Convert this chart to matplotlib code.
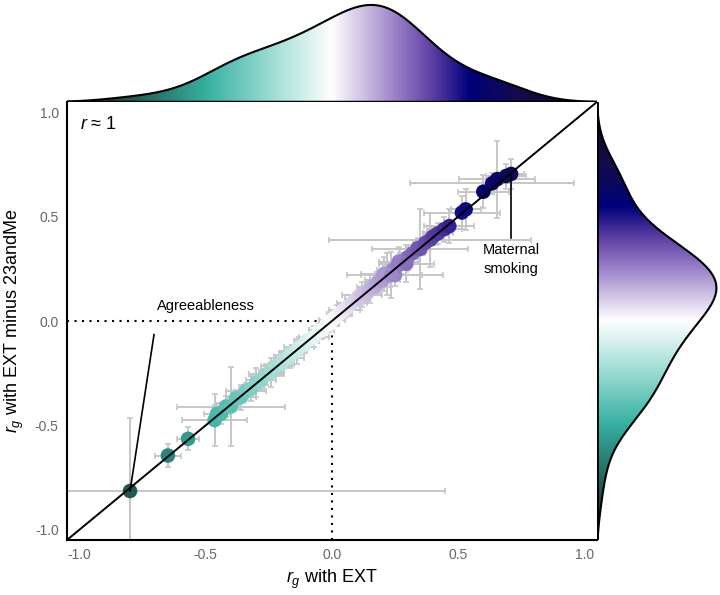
import numpy as np
import matplotlib
matplotlib.use("Agg")
import matplotlib.pyplot as plt
from matplotlib.colors import LinearSegmentedColormap, Normalize
from matplotlib.patches import Polygon

plt.rcParams['font.family'] = ['Liberation Sans', 'DejaVu Sans']
plt.rcParams['mathtext.fontset'] = 'custom'
plt.rcParams['mathtext.rm'] = 'Liberation Sans'
plt.rcParams['mathtext.it'] = 'Liberation Sans:italic'

# rg with EXT (x), rg with EXT minus 23andMe (y), and their standard errors
rg_ext = [-0.80, -0.65, -0.57, -0.465, -0.455,
          -0.44, -0.42, -0.40, -0.38, -0.36, -0.34, -0.32, -0.30, -0.28, -0.26, -0.24, -0.22,
          -0.20, -0.19, -0.17, -0.16, -0.14, -0.13, -0.11, -0.10, -0.08, -0.07, -0.05, -0.04,
          -0.02, -0.01,
          0.00, 0.01, 0.02, 0.03, 0.04, 0.05, 0.06, 0.07, 0.08, 0.09,
          0.10, 0.11, 0.12, 0.13, 0.14, 0.15, 0.16, 0.17, 0.18, 0.19,
          0.20, 0.21, 0.22, 0.23, 0.24, 0.25, 0.26, 0.27, 0.28, 0.30,
          0.32, 0.34, 0.35, 0.37, 0.39, 0.40, 0.42,
          0.205, 0.235, 0.265, 0.295,
          0.445, 0.465, 0.515, 0.53, 0.60, 0.635, 0.655, 0.69, 0.71]
rg_diff = [-0.815, -0.645, -0.565, -0.475, -0.445,
           -0.445, -0.41, -0.41, -0.37, -0.365, -0.335, -0.325, -0.295, -0.285, -0.255, -0.245, -0.215,
           -0.205, -0.185, -0.175, -0.155, -0.145, -0.125, -0.115, -0.095, -0.085, -0.075, -0.045, -0.045,
           -0.015, -0.015,
           0.005, 0.015, 0.025, 0.035, 0.045, 0.055, 0.065, 0.075, 0.085, 0.095,
           0.105, 0.105, 0.125, 0.135, 0.135, 0.155, 0.165, 0.165, 0.185, 0.195,
           0.195, 0.215, 0.225, 0.225, 0.245, 0.22, 0.265, 0.275, 0.285, 0.305,
           0.325, 0.35, 0.345, 0.375, 0.39, 0.405, 0.42,
           0.225, 0.22, 0.285, 0.275,
           0.44, 0.455, 0.52, 0.535, 0.62, 0.66, 0.68, 0.695, 0.705]
se_ext = [1.25, 0.05, 0.045, 0.13, 0.05,
          0.04, 0.05, 0.215, 0.04, 0.06, 0.08, 0.05, 0.04, 0.06, 0.07, 0.05, 0.06,
          0.05, 0.04, 0.06, 0.05, 0.04, 0.06, 0.04, 0.05, 0.03, 0.06, 0.04, 0.05,
          0.03, 0.04,
          0.05, 0.03, 0.04, 0.05, 0.03, 0.06, 0.03, 0.04, 0.06, 0.03,
          0.05, 0.04, 0.08, 0.03, 0.05, 0.04, 0.06, 0.03, 0.05, 0.04,
          0.07, 0.03, 0.05, 0.04, 0.06, 0.19, 0.05, 0.04, 0.06, 0.03,
          0.05, 0.04, 0.19, 0.05, 0.40, 0.04, 0.06,
          0.09, 0.12, 0.08, 0.11,
          0.07, 0.10, 0.15, 0.06, 0.10, 0.325, 0.15, 0.08, 0.05]
se_diff = [0.35, 0.055, 0.055, 0.125, 0.05,
           0.05, 0.05, 0.19, 0.04, 0.06, 0.04, 0.06, 0.07, 0.05, 0.05, 0.07, 0.05,
           0.06, 0.04, 0.05, 0.04, 0.06, 0.05, 0.04, 0.03, 0.04, 0.05, 0.03, 0.04,
           0.03, 0.04,
           0.04, 0.03, 0.05, 0.03, 0.04, 0.03, 0.04, 0.05, 0.03, 0.04,
           0.03, 0.05, 0.06, 0.03, 0.04, 0.07, 0.03, 0.04, 0.05, 0.03,
           0.04, 0.05, 0.10, 0.06, 0.04, 0.05, 0.03, 0.05, 0.04, 0.06,
           0.04, 0.05, 0.19, 0.05, 0.13, 0.04, 0.05,
           0.08, 0.11, 0.07, 0.09,
           0.06, 0.08, 0.08, 0.10, 0.08, 0.05, 0.185, 0.06, 0.07]

colours = [(0.0, '#1c2b2a'), (0.1, '#1f5a50'), (0.25, '#35b0a2'),
           (0.375, '#9adbd2'), (0.5, '#ffffff'), (0.55, '#d9cdea'),
           (0.625, '#9b82c9'), (0.7, '#5c3fa3'), (0.775, '#00007a'),
           (0.875, '#140c4a'), (1.0, '#0d0520')]
cmap = LinearSegmentedColormap.from_list('tealpurple', colours)
norm = Normalize(-1, 1)
lim = 1.05


def kde(vals, grid, bw=0.13):
    vals = np.asarray(vals)
    d = (grid[:, None] - vals[None, :]) / bw
    return np.exp(-0.5 * d ** 2).sum(1) / (len(vals) * bw * np.sqrt(2 * np.pi))


fig = plt.figure(figsize=(7.2, 5.95), dpi=100)
ax = fig.add_axes([0.093, 0.0924, 0.736, 0.7362])
ax_top = fig.add_axes([0.093, 0.8286, 0.736, 0.168], sharex=ax)
ax_right = fig.add_axes([0.829, 0.0924, 0.171, 0.7362], sharey=ax)

# main scatter
ax.errorbar(rg_ext, rg_diff, xerr=se_ext, yerr=se_diff, fmt='none',
            ecolor='#c6c6c6', elinewidth=1.4, capsize=2.5, capthick=1.2, zorder=1)
ax.scatter(rg_ext, rg_diff, c=rg_ext, cmap=cmap, norm=norm, s=110,
           edgecolors='none', zorder=2)
ax.plot([-lim, lim], [-lim, lim], color='black', lw=1.4, zorder=3)
ax.plot([-lim, 0], [0, 0], color='black', lw=1.5, ls=(0, (1, 2.6)), zorder=0)
ax.plot([0, 0], [-lim, 0], color='black', lw=1.5, ls=(0, (1, 2.6)), zorder=0)

ax.set_xlim(-lim, lim)
ax.set_ylim(-lim, lim)
ticks = [-1.0, -0.5, 0.0, 0.5, 1.0]
ax.set_xticks(ticks)
ax.set_yticks(ticks)
ax.set_xticklabels(['%.1f' % t for t in ticks])
ax.set_yticklabels(['%.1f' % t for t in ticks])
ax.tick_params(length=0, labelsize=10, labelcolor='#666666', pad=6)
for s in ['top', 'right']:
    ax.spines[s].set_visible(False)
for s in ['left', 'bottom']:
    ax.spines[s].set_linewidth(1.5)
ax.set_xlabel('$r_g$ with EXT', fontsize=13, labelpad=4)
ax.set_ylabel('$r_g$ with EXT minus 23andMe', fontsize=13, labelpad=6)

ax.text(-1.0, 0.94, '$r$ ≈ 1', fontsize=13, va='center', ha='left')

# labels
ax.plot([rg_ext[0], -0.705], [rg_diff[0], -0.065], color='black', lw=1.2, zorder=4)
ax.text(-0.695, 0.07, 'Agreeableness', fontsize=10.5, va='center', ha='left')
ax.plot([rg_ext[-1], rg_ext[-1]], [rg_diff[-1], 0.40], color='black', lw=1.2, zorder=4)
ax.text(rg_ext[-1], 0.295, 'Maternal\nsmoking', fontsize=10.5, va='center', ha='center',
        linespacing=1.4)

# marginal densities with gradient fill
grid = np.linspace(-lim, lim, 400)
dx = kde(rg_ext, grid)
dy = kde(rg_diff, grid)

ax_top.set_ylim(0, dx.max() * 1.03)
patch = Polygon(np.column_stack([np.r_[grid, grid[::-1]], np.r_[dx, np.zeros_like(dx)]]),
                closed=True, facecolor='none', edgecolor='none')
ax_top.add_patch(patch)
img = ax_top.imshow(grid[None, :], extent=[-lim, lim, 0, dx.max()], cmap=cmap, norm=norm,
                    aspect='auto', origin='lower', interpolation='bilinear')
img.set_clip_path(patch)
ax_top.plot(grid, dx, color='black', lw=1.5)
ax_top.axhline(0, color='black', lw=2.5)
ax_top.axis('off')

ax_right.set_xlim(0, dy.max() * 1.03)
patch2 = Polygon(np.column_stack([np.r_[dy, np.zeros_like(dy)], np.r_[grid, grid[::-1]]]),
                 closed=True, facecolor='none', edgecolor='none')
ax_right.add_patch(patch2)
img2 = ax_right.imshow(grid[:, None], extent=[0, dy.max(), -lim, lim], cmap=cmap, norm=norm,
                       aspect='auto', origin='lower', interpolation='bilinear')
img2.set_clip_path(patch2)
ax_right.plot(dy, grid, color='black', lw=1.5)
ax_right.axvline(0, color='black', lw=2.0)
ax_right.axis('off')
ax_top.set_xlim(-lim, lim)
ax_right.set_ylim(-lim, lim)

fig.savefig('out.png', dpi=100)
